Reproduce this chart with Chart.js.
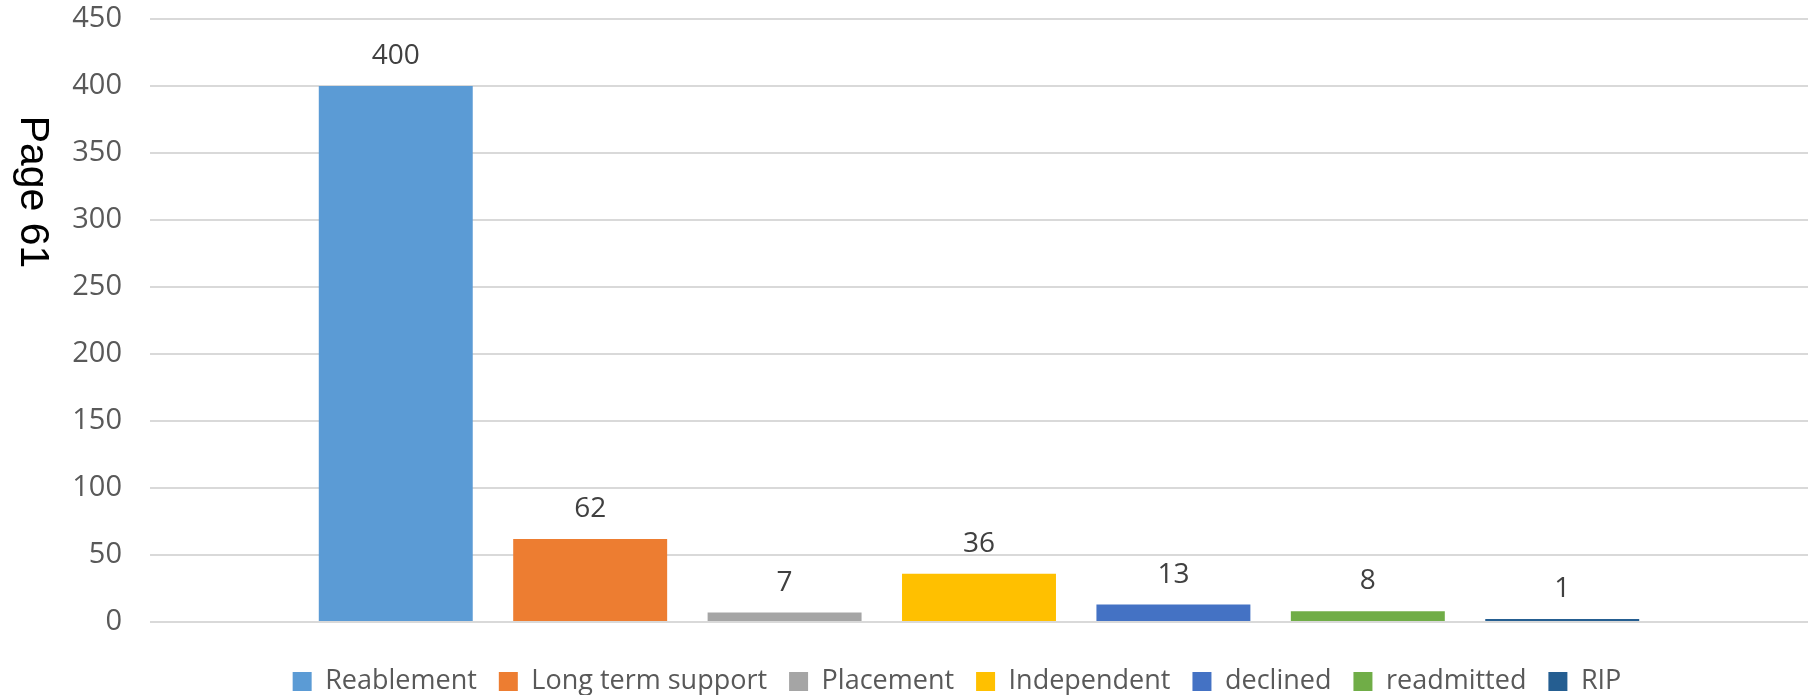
<!DOCTYPE html>
<html>
<head>
<meta charset="utf-8">
<script src="https://cdn.jsdelivr.net/npm/chart.js@4.4.0/dist/chart.umd.min.js"></script>
<style>
  html, body { margin: 0; padding: 0; background: #fff; }
</style>
</head>
<body>
<canvas id="chart" width="1808" height="695"></canvas>
<script>
// outcome categories, each its own series in one group
const seriesNames = ['Reablement', 'Long term support', 'Placement', 'Independent', 'declined', 'readmitted', 'RIP'];
const seriesValues = [400, 62, 7, 36, 13, 8, 1];
const seriesColors = ['#5B9BD5', '#ED7D31', '#A5A5A5', '#FFC000', '#4472C4', '#70AD47', '#255E91'];
const yTicks = [0, 50, 100, 150, 200, 250, 300, 350, 400, 450];
const sideText = 'Page 61';

const valueLabels = {
  id: 'valueLabels',
  afterDatasetsDraw(chart) {
    const ctx = chart.ctx;
    ctx.save();
    ctx.font = '28px "Open Sans"';
    ctx.fillStyle = '#404040';
    ctx.textAlign = 'center';
    ctx.textBaseline = 'alphabetic';
    chart.data.datasets.forEach((ds, i) => {
      const bar = chart.getDatasetMeta(i).data[0];
      ctx.fillText(String(ds.data[0]), bar.x, bar.y - 22);
    });
    ctx.restore();
  }
};

const pageText = {
  id: 'pageText',
  afterDraw(chart) {
    const ctx = chart.ctx;
    ctx.save();
    ctx.translate(21, 192);
    ctx.rotate(Math.PI / 2);
    ctx.font = '41px "Liberation Sans"';
    ctx.fillStyle = '#000';
    ctx.textAlign = 'center';
    ctx.textBaseline = 'alphabetic';
    ctx.fillText(sideText, 0, 0);
    ctx.restore();
  }
};

// the legend in the original is centred on a wider chart, nudge it right
const legendShift = {
  id: 'legendShift',
  afterLayout(chart) {
    chart.legend.left += 42;
    chart.legend.right += 42;
  }
};

new Chart(document.getElementById('chart'), {
  type: 'bar',
  data: {
    labels: [''],
    datasets: seriesNames.map((name, i) => ({
      label: name,
      data: [seriesValues[i]],
      backgroundColor: seriesColors[i],
      categoryPercentage: 0.8208,
      barPercentage: 0.7919,
      minBarLength: 3
    }))
  },
  options: {
    responsive: false,
    animation: false,
    devicePixelRatio: 1,
    layout: { padding: { top: 19, right: -22, left: 0, bottom: -10 } },
    plugins: {
      tooltip: { enabled: false },
      legend: {
        position: 'bottom',
        labels: {
          boxWidth: 19,
          boxHeight: 19,
          padding: 22,
          color: '#595959',
          font: { family: '"Open Sans"', size: 27 }
        }
      }
    },
    scales: {
      x: {
        display: true,
        grid: { display: false, drawTicks: false },
        border: { display: false },
        ticks: { display: false },
        afterFit(scale) { scale.height = 24; }
      },
      y: {
        min: 0,
        max: 450,
        afterBuildTicks(scale) { scale.ticks = yTicks.map(v => ({ value: v })); },
        afterFit(scale) {
          scale.width = 150;
          scale.paddingTop = 0;
          scale.paddingBottom = 0;
        },
        border: { display: false },
        grid: { color: '#D9D9D9', lineWidth: 2, drawTicks: false },
        ticks: {
          padding: 28,
          color: '#595959',
          font: { family: '"Open Sans"', size: 29 }
        }
      }
    }
  },
  plugins: [valueLabels, pageText, legendShift]
});
</script>
</body>
</html>
